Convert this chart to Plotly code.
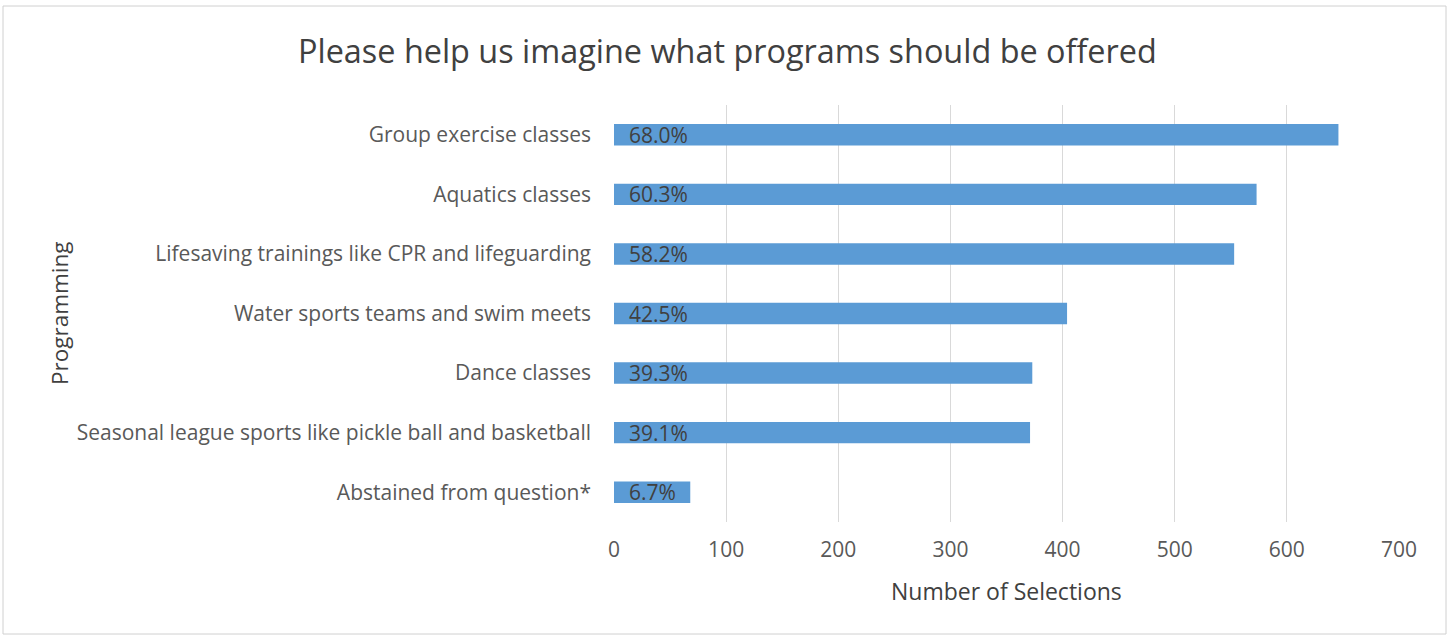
import plotly.graph_objects as go

# Survey results: number of selections per program (top to bottom)
programs = [
    "Group exercise classes",
    "Aquatics classes",
    "Lifesaving trainings like CPR and lifeguarding",
    "Water sports teams and swim meets",
    "Dance classes",
    "Seasonal league sports like pickle ball and basketball",
    "Abstained from question*",
]
selections = [646, 573, 553, 404, 373, 371, 68]
pct_labels = ["68.0%", "60.3%", "58.2%", "42.5%", "39.3%", "39.1%", "6.7%"]
x_ticks = [0, 100, 200, 300, 400, 500, 600, 700]

FONT = "Open Sans"
BAR_COLOR = "#5B9BD5"
GRID = "#D9D9D9"
TEXT = "#595959"
DARK = "#404040"

W, H = 1448, 635
L, R, T, B = 614, 49, 105, 113

fig = go.Figure(
    go.Bar(
        x=selections,
        y=programs,
        orientation="h",
        marker=dict(color=BAR_COLOR, line=dict(width=0)),
        hoverinfo="skip",
    )
)

# Percentage labels sit at the base of each bar
annotations = [
    dict(
        x=0, y=p, xref="x", yref="y", text=t, showarrow=False,
        xanchor="left", yanchor="middle", xshift=13,
        font=dict(family=FONT, size=21, color=DARK),
    )
    for p, t in zip(programs, pct_labels)
]

pw, ph = W - L - R, H - T - B
def px_to_paper_x(px):
    return (px - L) / pw
def px_to_paper_y(py):
    return (H - B - py) / ph

# Axis titles
annotations.append(dict(
    x=px_to_paper_x(1006), y=px_to_paper_y(591), xref="paper", yref="paper",
    text="Number of Selections", showarrow=False, xanchor="center", yanchor="middle",
    font=dict(family=FONT, size=23, color=DARK),
))
annotations.append(dict(
    x=px_to_paper_x(59), y=px_to_paper_y(313), xref="paper", yref="paper",
    text="Programming", showarrow=False, textangle=-90, xanchor="center", yanchor="middle",
    font=dict(family=FONT, size=22.5, color=DARK),
))
# Title
annotations.append(dict(
    x=px_to_paper_x(727), y=px_to_paper_y(50), xref="paper", yref="paper",
    text="Please help us imagine what programs should be offered", showarrow=False,
    xanchor="center", yanchor="middle",
    font=dict(family=FONT, size=32.4, color=DARK),
))

# Light chart border
shapes = [dict(
    type="rect", xref="paper", yref="paper",
    x0=px_to_paper_x(3), x1=px_to_paper_x(1446),
    y0=px_to_paper_y(634), y1=px_to_paper_y(6),
    line=dict(color="#D0D0D0", width=1), fillcolor="rgba(0,0,0,0)", layer="below",
)]

fig.update_layout(
    width=W, height=H,
    margin=dict(l=L, r=R, t=T, b=B, pad=0),
    paper_bgcolor="white", plot_bgcolor="white",
    bargap=0.64,
    showlegend=False,
    annotations=annotations,
    shapes=shapes,
    font=dict(family=FONT, color=TEXT),
    xaxis=dict(
        range=[0, 700], tickvals=x_ticks, ticktext=[str(v) for v in x_ticks],
        showgrid=True, gridcolor=GRID, gridwidth=1.3, zeroline=False,
        showline=False, ticks="", ticklabelstandoff=13,
        tickfont=dict(family=FONT, size=21, color=TEXT), fixedrange=True,
    ),
    yaxis=dict(
        categoryorder="array", categoryarray=programs[::-1],
        showgrid=False, zeroline=False, showline=False, ticks="",
        ticklabelstandoff=22,
        tickfont=dict(family=FONT, size=21, color=TEXT), fixedrange=True,
    ),
)

fig.write_html("out.html", config={"displayModeBar": False})
